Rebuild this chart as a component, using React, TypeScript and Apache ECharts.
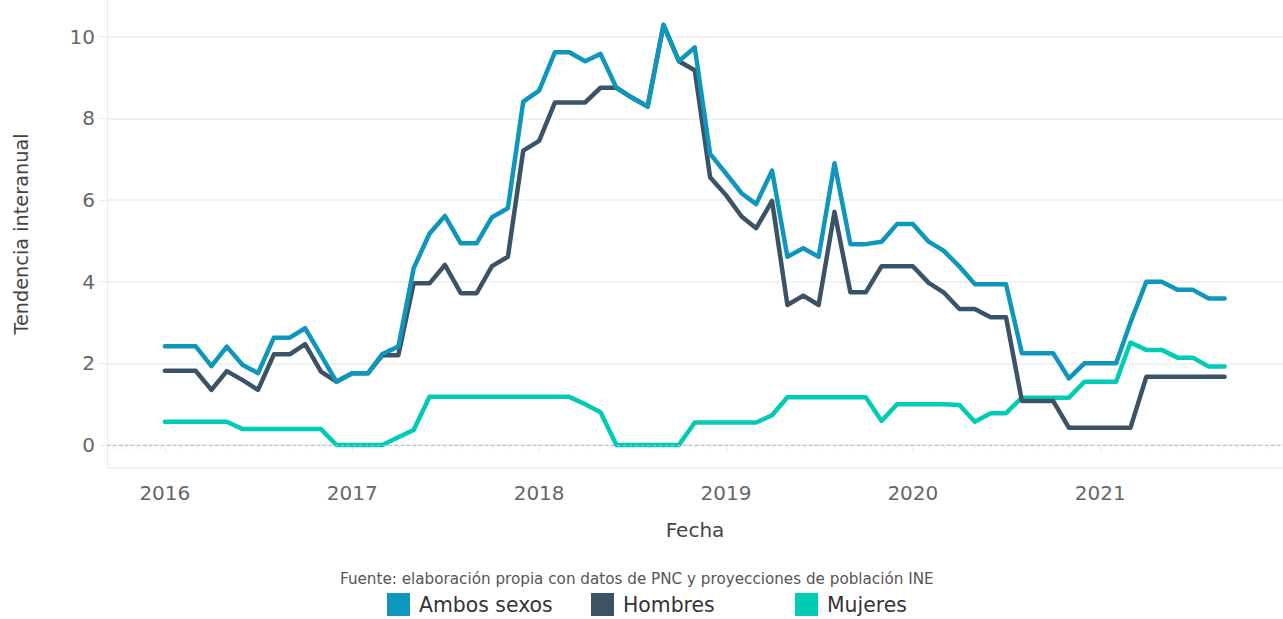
import React, { useEffect, useRef } from 'react';
import * as echarts from 'echarts';

const months = [
  '2016-01', '2016-02', '2016-03', '2016-04', '2016-05', '2016-06', '2016-07', '2016-08', '2016-09', '2016-10', '2016-11', '2016-12',
  '2017-01', '2017-02', '2017-03', '2017-04', '2017-05', '2017-06', '2017-07', '2017-08', '2017-09', '2017-10', '2017-11', '2017-12',
  '2018-01', '2018-02', '2018-03', '2018-04', '2018-05', '2018-06', '2018-07', '2018-08', '2018-09', '2018-10', '2018-11', '2018-12',
  '2019-01', '2019-02', '2019-03', '2019-04', '2019-05', '2019-06', '2019-07', '2019-08', '2019-09', '2019-10', '2019-11', '2019-12',
  '2020-01', '2020-02', '2020-03', '2020-04', '2020-05', '2020-06', '2020-07', '2020-08', '2020-09', '2020-10', '2020-11', '2020-12',
  '2021-01', '2021-02', '2021-03', '2021-04', '2021-05', '2021-06', '2021-07', '2021-08', '2021-09',
];

const ambosSexos = [
  2.42, 2.42, 2.42, 1.93, 2.41, 1.96, 1.76, 2.63, 2.63, 2.86, 2.2, 1.55,
  1.76, 1.76, 2.23, 2.41, 4.33, 5.18, 5.61, 4.94, 4.94, 5.58, 5.8, 8.41,
  8.68, 9.62, 9.62, 9.4, 9.58, 8.75, 8.51, 8.29, 10.29, 9.4, 9.74, 7.13,
  6.65, 6.16, 5.9, 6.72, 4.61, 4.82, 4.61, 6.9, 4.92, 4.92, 4.98, 5.41,
  5.41, 4.98, 4.76, 4.37, 3.94, 3.94, 3.94, 2.25, 2.25, 2.25, 1.63, 2.0,
  2.0, 2.0, 3.0, 4.0, 4.0, 3.8, 3.8, 3.59, 3.59,
];

const hombres = [
  1.82, 1.82, 1.82, 1.35, 1.81, 1.59, 1.35, 2.22, 2.22, 2.47, 1.8, 1.55,
  1.76, 1.76, 2.2, 2.2, 3.96, 3.96, 4.41, 3.72, 3.72, 4.38, 4.61, 7.21,
  7.45, 8.39, 8.39, 8.39, 8.75, 8.75, 8.51, 8.29, 10.29, 9.4, 9.18, 6.56,
  6.12, 5.59, 5.31, 5.98, 3.43, 3.66, 3.43, 5.71, 3.74, 3.74, 4.38, 4.38,
  4.38, 3.97, 3.74, 3.33, 3.33, 3.13, 3.13, 1.08, 1.08, 1.08, 0.42, 0.42,
  0.42, 0.42, 0.42, 1.67, 1.67, 1.67, 1.67, 1.67, 1.67,
];

const mujeres = [
  0.57, 0.57, 0.57, 0.57, 0.57, 0.39, 0.39, 0.39, 0.39, 0.39, 0.39, 0.0,
  0.0, 0.0, 0.0, 0.19, 0.37, 1.18, 1.18, 1.18, 1.18, 1.18, 1.18, 1.18,
  1.18, 1.18, 1.18, 1.0, 0.8, 0.0, 0.0, 0.0, 0.0, 0.0, 0.55, 0.55,
  0.55, 0.55, 0.55, 0.73, 1.17, 1.17, 1.17, 1.17, 1.17, 1.17, 0.59, 1.0,
  1.0, 1.0, 1.0, 0.98, 0.57, 0.78, 0.78, 1.16, 1.16, 1.16, 1.16, 1.55,
  1.55, 1.55, 2.51, 2.33, 2.33, 2.14, 2.14, 1.92, 1.92,
];

const seriesNames = ['Ambos sexos', 'Hombres', 'Mujeres'];
const seriesColors = ['#0e96bc', '#3c5366', '#00ccb5'];
const xAxisTitle = 'Fecha';
const yAxisTitle = 'Tendencia interanual';
const sourceNote = 'Fuente: elaboración propia con datos de PNC y proyecciones de población INE';

const FONT = "'DejaVu Sans', sans-serif";
const OFFSET = 20; // chart div starts 20px above the page so the plot top is hidden

function toTs(m: string): number {
  const [y, mo] = m.split('-').map(Number);
  return new Date(y, mo - 1, 1).getTime();
}

export default function App() {
  const ref = useRef<HTMLDivElement>(null);

  useEffect(() => {
    if (!ref.current) return;
    const chart = echarts.init(ref.current, undefined, { renderer: 'svg' });
    const values = [ambosSexos, hombres, mujeres];
    const mkData = (arr: number[]) => months.map((m, i) => [toTs(m), arr[i]]);

    const lineSeries = [2, 1, 0].map((idx) => ({
      type: 'line',
      name: seriesNames[idx],
      data: mkData(values[idx]),
      showSymbol: false,
      symbol: 'none',
      silent: true,
      color: seriesColors[idx],
      lineStyle: { width: 4.5, color: seriesColors[idx], cap: 'round', join: 'round' },
      emphasis: { disabled: true },
    }));

    const legendLefts = [387, 591, 795];

    chart.setOption({
      animation: false,
      textStyle: { fontFamily: FONT },
      grid: { left: 107, right: 0, top: 0, bottom: 151, containLabel: false },
      legend: seriesNames.map((n, i) => ({
        data: [n],
        left: legendLefts[i],
        top: 593 + OFFSET,
        padding: 0,
        icon: 'rect',
        itemWidth: 23,
        itemHeight: 23,
        selectedMode: false,
        textStyle: { fontSize: 20.4, color: '#333', fontFamily: FONT, padding: [2, 0, 0, 4] },
      })),
      xAxis: {
        type: 'time',
        min: new Date(2015, 8, 10).getTime(),
        max: new Date(2021, 11, 24).getTime(),
        splitNumber: 6,
        minInterval: 365 * 24 * 3600 * 1000,
        name: xAxisTitle,
        nameLocation: 'middle',
        nameGap: 52,
        nameTextStyle: { fontSize: 20, color: '#444', fontFamily: FONT },
        axisLine: { show: true, lineStyle: { color: '#ebebeb', width: 1 } },
        axisTick: { show: true, length: 8, lineStyle: { color: '#ebebeb' } },
        minorTick: { show: true, splitNumber: 12, length: 4, lineStyle: { color: '#ebebeb' } },
        splitLine: { show: false },
        axisLabel: {
          formatter: '{yyyy}',
          fontSize: 20,
          color: '#666',
          margin: 15,
          fontFamily: FONT,
          showMinLabel: false,
          showMaxLabel: false,
        },
      },
      yAxis: {
        type: 'value',
        min: -0.563,
        max: 11.389,
        splitNumber: 6,
        axisLine: { show: true, lineStyle: { color: '#ebebeb', width: 1 } },
        axisTick: { show: true, length: 8, lineStyle: { color: '#ebebeb' } },
        splitLine: { show: true, lineStyle: { color: '#ededed', width: 1.5 } },
        axisLabel: {
          fontSize: 20,
          color: '#666',
          margin: 12,
          fontFamily: FONT,
          showMinLabel: false,
          showMaxLabel: false,
        },
      },
      graphic: [
        {
          type: 'text',
          x: 21,
          y: 234 + OFFSET,
          rotation: Math.PI / 2,
          silent: true,
          style: {
            text: yAxisTitle,
            fontSize: 19.3,
            fontFamily: FONT,
            fill: '#444',
            textAlign: 'center',
            textVerticalAlign: 'middle',
          },
        },
        {
          type: 'text',
          x: 340,
          y: 579 + OFFSET,
          silent: true,
          style: {
            text: sourceNote,
            fontSize: 15.2,
            fontFamily: FONT,
            fill: '#555',
            textAlign: 'left',
            textVerticalAlign: 'middle',
          },
        },
      ],
      series: [
        {
          type: 'line',
          name: 'zero',
          data: [],
          silent: true,
          markLine: {
            silent: true,
            symbol: 'none',
            label: { show: false },
            lineStyle: { type: [3, 3], color: '#bbb', width: 1 },
            data: [{ yAxis: 0 }],
          },
        },
        ...lineSeries,
      ],
    });

    return () => chart.dispose();
  }, []);

  return (
    <div
      ref={ref}
      style={{ position: 'absolute', left: 0, top: -OFFSET, width: 1283, height: 619 + OFFSET }}
    />
  );
}
